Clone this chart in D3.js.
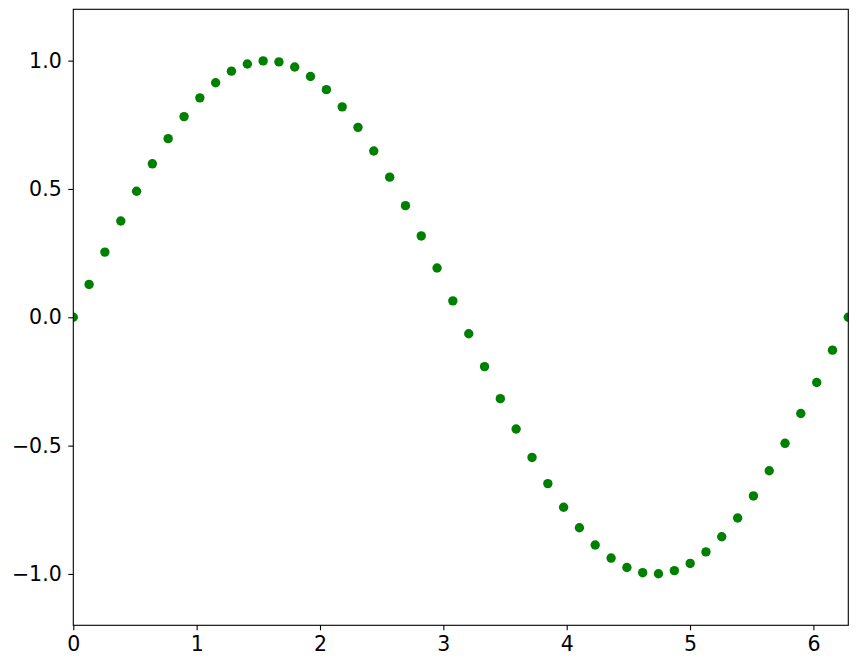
<!DOCTYPE html>
<html>
<head>
<meta charset="utf-8">
<script src="https://cdn.jsdelivr.net/npm/d3@7"></script>
<style>
  body { margin: 0; background: #fff; }
  .tick text { font-family: 'DejaVu Sans', sans-serif; font-size: 20.5px; fill: #000; }
</style>
</head>
<body>
<svg class="sineChart"></svg>
<script>
// sample points
const xValues = [0, 0.128, 0.256, 0.385, 0.513, 0.641, 0.769, 0.898, 1.026, 1.154,
  1.282, 1.411, 1.539, 1.667, 1.795, 1.923, 2.052, 2.180, 2.308, 2.436,
  2.565, 2.693, 2.821, 2.949, 3.077, 3.206, 3.334, 3.462, 3.590, 3.719,
  3.847, 3.975, 4.103, 4.231, 4.360, 4.488, 4.616, 4.744, 4.873, 5.001,
  5.129, 5.257, 5.386, 5.514, 5.642, 5.770, 5.898, 6.027, 6.155, 6.283];
const yValues = [0, 0.128, 0.254, 0.375, 0.491, 0.598, 0.696, 0.782, 0.855, 0.914,
  0.959, 0.987, 0.999, 0.995, 0.975, 0.938, 0.887, 0.820, 0.740, 0.648,
  0.546, 0.435, 0.317, 0.192, 0.064, -0.064, -0.192, -0.317, -0.435, -0.546,
  -0.648, -0.740, -0.820, -0.887, -0.938, -0.975, -0.995, -0.999, -0.987, -0.959,
  -0.914, -0.855, -0.782, -0.696, -0.598, -0.491, -0.375, -0.254, -0.128, 0];
const xTicks = [0, 1, 2, 3, 4, 5, 6];
const yTicks = [-1.0, -0.5, 0.0, 0.5, 1.0];
const xDomain = [0, 6.283];
const yDomain = [-1.2, 1.2];

const margin = { top: 9.3, right: 8.7, bottom: 41.7, left: 73.3 };
const W = 857;
const H = 667;
const w = W - margin.left - margin.right;
const h = H - margin.top - margin.bottom;

const points = xValues.map(function (x, i) { return { x: x, y: yValues[i] }; });

const xScale = d3.scaleLinear().domain(xDomain).range([0, w]);
const yScale = d3.scaleLinear().domain(yDomain).range([h, 0]);

const svg = d3.select('.sineChart')
  .attr('width', W)
  .attr('height', H)
  .append('g')
  .attr('transform', 'translate(' + margin.left + ',' + margin.top + ')');

svg.append('clipPath')
  .attr('id', 'plotClip')
  .append('rect')
  .attr('width', w)
  .attr('height', h);

svg.append('g')
  .attr('clip-path', 'url(#plotClip)')
  .selectAll('circle')
  .data(points)
  .enter()
  .append('circle')
  .attr('cx', function (d) { return xScale(d.x); })
  .attr('cy', function (d) { return yScale(d.y); })
  .attr('r', 4.7)
  .attr('fill', '#008000');

const fmtY = function (d) { return d3.format('.1f')(d).replace('-', '\u2212'); };

const xAxis = d3.axisBottom(xScale)
  .tickValues(xTicks)
  .tickFormat(d3.format('d'))
  .tickSize(5)
  .tickPadding(6);

const yAxis = d3.axisLeft(yScale)
  .tickValues(yTicks)
  .tickFormat(fmtY)
  .tickSize(5)
  .tickPadding(6.6);

svg.append('g')
  .attr('transform', 'translate(0,' + h + ')')
  .call(xAxis)
  .call(function (g) { g.select('.domain').remove(); });

svg.append('g')
  .call(yAxis)
  .call(function (g) { g.select('.domain').remove(); });

svg.selectAll('.tick line').attr('stroke', '#000').attr('stroke-width', 1.1);

// frame on top of the points
svg.append('rect')
  .attr('width', w)
  .attr('height', h)
  .attr('fill', 'none')
  .attr('stroke', '#000')
  .attr('stroke-width', 1.1);
</script>
</body>
</html>
